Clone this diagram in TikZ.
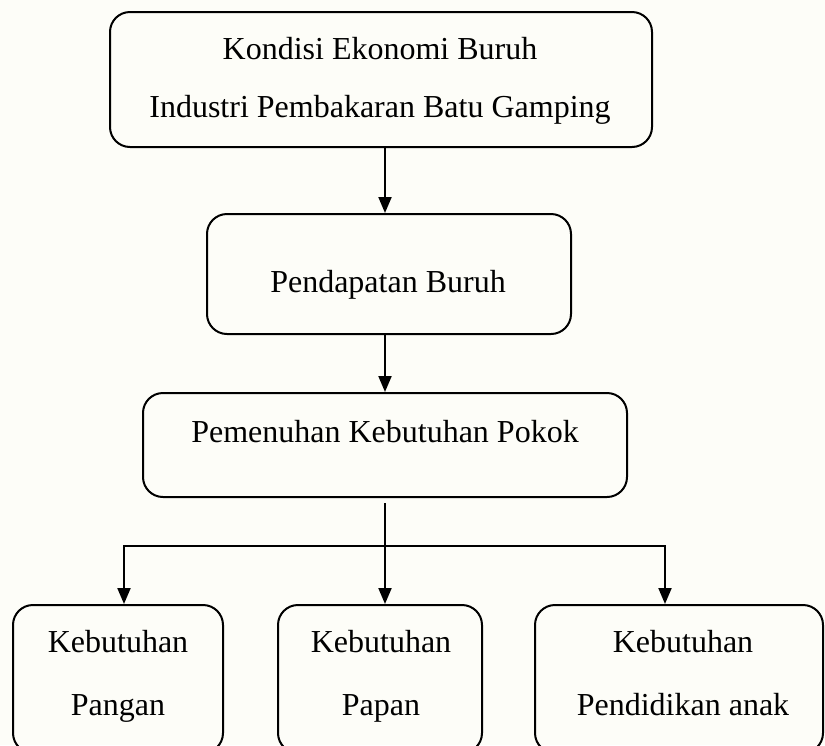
\documentclass[tikz,border=0pt]{standalone}
\usepackage{fontspec}
\setmainfont{Liberation Serif}
\usetikzlibrary{arrows.meta}
\definecolor{bg}{RGB}{253,253,248}
\begin{document}
\begin{tikzpicture}[x=0.5pt,y=-0.5pt,
  box/.style={draw,line width=1pt,rounded corners=10pt,inner sep=0pt},
  lbl/.style={anchor=base,font=\fontsize{16}{19}\selectfont,inner sep=0pt},
  conn/.style={line width=1pt,-{Triangle[length=8pt,width=6.5pt]}},
  plain/.style={line width=1pt,line cap=rect}]
\fill[bg] (0,0) rectangle (825,745);
\useasboundingbox (0,0) rectangle (825,745);
% boxes
\node[box,minimum width=271pt,minimum height=67.5pt] (b1) at (381,79.5) {};
\node[box,minimum width=182pt,minimum height=60pt] (b2) at (389,274) {};
\node[box,minimum width=242pt,minimum height=52pt] (b3) at (385,445) {};
\node[box,minimum width=105pt,minimum height=74pt] (b4) at (118,679) {};
\node[box,minimum width=102pt,minimum height=74pt] (b5) at (380,679) {};
\node[box,minimum width=144pt,minimum height=74pt] (b6) at (679,679) {};
% texts
\node[lbl] (t1a) at (380,59) {Kondisi Ekonomi Buruh};
\node[lbl] (t1b) at (380,117) {Industri Pembakaran Batu Gamping};
\node[lbl] (t2) at (388,292) {Pendapatan Buruh};
\node[lbl] (t3) at (385,442) {Pemenuhan Kebutuhan Pokok};
\node[lbl] (t4a) at (118,652) {Kebutuhan};
\node[lbl] (t4b) at (118,715) {Pangan};
\node[lbl] (t5a) at (381,652) {Kebutuhan};
\node[lbl] (t5b) at (381,715) {Papan};
\node[lbl] (t6a) at (683,652) {Kebutuhan};
\node[lbl] (t6b) at (683,715) {Pendidikan anak};
% connectors
\coordinate (mtop) at (385,503);
\coordinate (jl) at (124,546);
\coordinate (jr) at (665,546);
\draw[conn] (b1.south -| b3.center) -- (b2.north -| b3.center);
\draw[conn] (b2.south -| b3.center) -- (b3.north);
\draw[conn] (mtop) -- (mtop |- b5.north);
\draw[plain] (jl) -- (jr);
\draw[conn] (jl) -- (jl |- b4.north);
\draw[conn] (jr) -- (jr |- b6.north);
\end{tikzpicture}
\end{document}
